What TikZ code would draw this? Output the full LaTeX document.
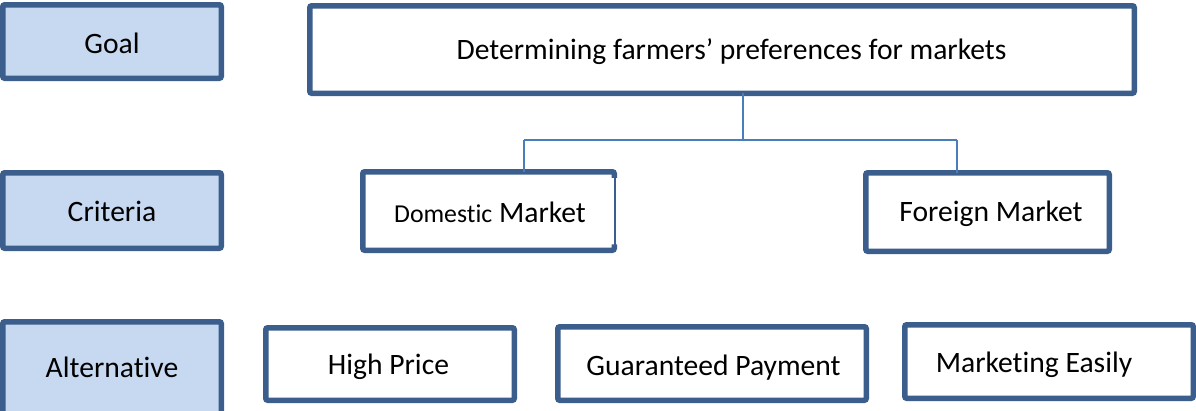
\documentclass[tikz,border=0pt]{standalone}
\usepackage{fontspec}
\setmainfont[Ligatures={NoCommon}]{Carlito}
\usetikzlibrary{fit,calc}
\definecolor{bordc}{HTML}{3B5E8C}
\definecolor{fillc}{HTML}{C6D9F1}
\definecolor{connc}{HTML}{4A7EBB}
\tikzset{
  boxed/.style={draw=bordc,line width=5.5pt,rounded corners=2pt,inner sep=0pt,outer sep=0pt,fill=white},
  levelbox/.style={boxed,fill=fillc},
  txt/.style={anchor=base,inner sep=0pt,font=\fontsize{29.6}{34}\selectfont},
  conn/.style={draw=connc,line width=1.5pt},
}
\begin{document}
\begin{tikzpicture}[x=1pt,y=-1pt]
\useasboundingbox (0,0) rectangle (1196,410);
% level boxes
\node[levelbox,fit={(2.75,4.75) (221.25,78.25)}] (goal) {};
\node[levelbox,fit={(2.75,172.75) (221.25,248.25)}] (crit) {};
\node[levelbox,fit={(2.75,321.75) (221.25,420)}] (alt) {};
\node[txt] (tgoal) at (112,53) {Goal};
\node[txt] (tcrit) at (112,221) {Criteria};
\node[txt] (talt) at (112,377) {Alternative};
% goal
\node[boxed,fit={(309.75,5.75) (1134.25,93.25)}] (top) {};
\node[txt] (ttop) at (731.5,59) {Determining farmers’ preferences for markets};
% criteria
\node[fit={(362.75,171.75) (614.25,250.25)},inner sep=0pt,outer sep=0pt,fill=white] (dm) {};
\draw[draw=bordc,line width=5.5pt,rounded corners=2pt]
  ([yshift=-6pt]dm.north east) -- (dm.north east) -- (dm.north west) -- (dm.south west) -- (dm.south east) -- ([yshift=6pt]dm.south east);
\draw[draw=bordc,line width=1.5pt] ([xshift=0.5pt]dm.north east) -- ([xshift=0.5pt]dm.south east);
\node[txt] (tdm) at (490,222) {{\fontsize{25.8}{30}\selectfont Domestic} Market};
\node[boxed,fit={(865.75,172.75) (1109.25,251.25)}] (fm) {};
\node[txt] (tfm) at (991,221) {Foreign Market};
% alternatives
\node[boxed,fit={(265.75,327.75) (514.25,400.25)}] (hp) {};
\node[txt] (thp) at (388.5,374) {High Price};
\node[boxed,fit={(557.75,326.75) (866.25,400.25)}] (gp) {};
\node[txt] (tgp) at (713.5,375) {Guaranteed Payment};
\node[boxed,fit={(904.75,324.75) (1193.25,398.25)}] (me) {};
\node[txt] (tme) at (1034,372) {Marketing Easily};
% connectors
\coordinate (j) at (743,140);
\coordinate (jl) at (524,140);
\coordinate (jr) at (957,140);
\draw[conn] (top.south -| j) -- (j);
\draw[conn] (jl) -- (jr);
\draw[conn] (jl) -- (jl |- dm.north);
\draw[conn] (jr) -- (jr |- fm.north);
\end{tikzpicture}
\end{document}
